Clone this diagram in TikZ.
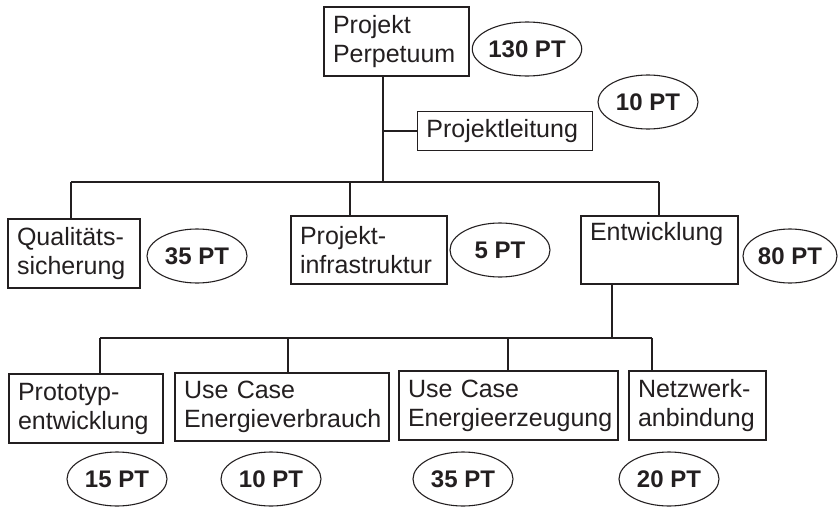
\documentclass[tikz,border=0pt]{standalone}
\usepackage{fontspec}
\setmainfont{Liberation Sans}
\usetikzlibrary{shapes.geometric, positioning}
\definecolor{mydark}{RGB}{35,31,32}
\tikzset{
  wpbox/.style={rectangle, draw=mydark, fill=white, line width=2pt,
    anchor=north west, align=left, inner xsep=9pt, inner ysep=0pt,
    text=mydark, font=\fontsize{25}{29}\selectfont,
    execute at begin node={\hyphenpenalty=10000\relax}},
  leitbox/.style={wpbox, line width=0.9pt},
  ptoval/.style={ellipse, draw=mydark, line width=1.1pt, minimum width=100pt,
    minimum height=54pt, inner sep=0pt, text=mydark,
    font=\fontsize{24}{28}\selectfont\bfseries},
  line/.style={line width=1.6pt, color=mydark}
}
\begin{document}
\begin{tikzpicture}[x=1pt, y=-1pt]
  \useasboundingbox (0,0) rectangle (840,506);
  % Work packages
  \node[wpbox, minimum width=145pt, minimum height=69pt, text width=127pt] (root) at (323,6) {Projekt\\Perpetuum};
  \node[leitbox, minimum width=175pt, minimum height=39pt, text width=157pt] (leit) at (417,111) {Projektleitung};
  \node[wpbox, minimum width=132pt, minimum height=69pt, text width=114pt] (qs) at (7,218) {Qualitäts-\\sicherung};
  \node[wpbox, minimum width=156pt, minimum height=68pt, text width=138pt] (infra) at (290,215) {Projekt-\\infrastruktur};
  \node[wpbox, minimum width=157pt, minimum height=68pt, text width=139pt] (entw) at (580,215) {Entwicklung\\\strut};
  \node[wpbox, minimum width=154pt, minimum height=69pt, text width=136pt] (proto) at (8,373) {Prototyp-\\entwicklung};
  \node[wpbox, minimum width=214pt, minimum height=68pt, text width=196pt] (ucv) at (174,372) {Use Case\\Energieverbrauch};
  \node[wpbox, minimum width=219pt, minimum height=69pt, text width=201pt] (uce) at (398,370) {Use Case\\Energieerzeugung};
  \node[wpbox, minimum width=137pt, minimum height=69pt, text width=119pt] (netz) at (628,370) {Netzwerk-\\anbindung};

  % Effort estimates
  \node[ptoval] (pt130) at (527,49) {130 PT};
  \node[ptoval] (pt10a) at (648,102) {10 PT};
  \node[ptoval] (pt35a) at (197,256) {35 PT};
  \node[ptoval] (pt5) at (500,250) {5 PT};
  \node[ptoval, minimum width=94pt] (pt80) at (790,256) {80 PT};
  \node[ptoval] (pt15) at (117,479) {15 PT};
  \node[ptoval] (pt10b) at (271,479) {10 PT};
  \node[ptoval] (pt35b) at (463,479) {35 PT};
  \node[ptoval] (pt20) at (669,479) {20 PT};

  % Bus coordinates
  \coordinate (j1) at (383,182);
  \coordinate (t1) at (71,182);
  \coordinate (t2) at (350,182);
  \coordinate (t3) at (659,182);
  \coordinate (j2) at (612,338);
  \coordinate (s1) at (100,338);
  \coordinate (s2) at (288,338);
  \coordinate (s3) at (508,338);
  \coordinate (s4) at (652,338);

  % First level
  \draw[line] (root.south -| j1) -- (j1);
  \draw[line] (leit.west -| j1) -- (leit.west);
  \draw[line] (t1) -- (t3);
  \draw[line] (t1) -- (t1 |- qs.north);
  \draw[line] (t2) -- (t2 |- infra.north);
  \draw[line] (t3) -- (t3 |- entw.north);

  % Second level
  \draw[line] (entw.south -| j2) -- (j2);
  \draw[line] (s1) -- (s4);
  \draw[line] (s1) -- (s1 |- proto.north);
  \draw[line] (s2) -- (s2 |- ucv.north);
  \draw[line] (s3) -- (s3 |- uce.north);
  \draw[line] (s4) -- (s4 |- netz.north);
\end{tikzpicture}
\end{document}
